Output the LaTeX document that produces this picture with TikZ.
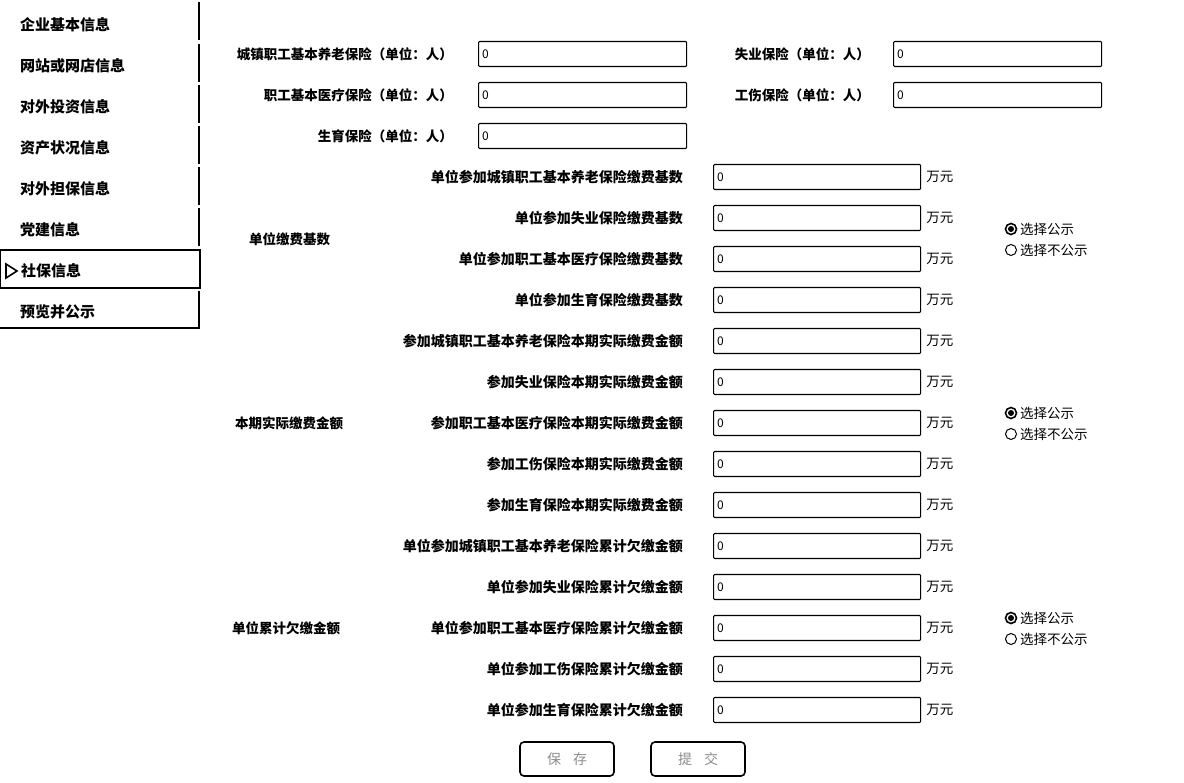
\documentclass[tikz,border=0pt]{standalone}
\usepackage{fontspec}
\newfontfamily\cjk{Noto Sans CJK SC}
\begin{document}
\begin{tikzpicture}[x=1pt,y=-1pt,
  lab/.style={font=\cjk\bfseries\fontsize{13.5pt}{15pt}\selectfont, inner sep=0pt},
  mlab/.style={font=\cjk\bfseries\fontsize{14pt}{15pt}\selectfont, inner sep=0pt, anchor=east},
  glab/.style={font=\cjk\bfseries\fontsize{13.5pt}{15pt}\selectfont, inner sep=0pt, anchor=west},
  menu/.style={font=\cjk\bfseries\fontsize{15pt}{16pt}\selectfont, inner sep=0pt, anchor=west},
  inbox/.style={draw, line width=1.1pt, rounded corners=1pt, minimum height=25pt, minimum width=#1, inner sep=0pt, anchor=west},
  inbox/.default=207pt,
  val/.style={font=\cjk\fontsize{12pt}{13pt}\selectfont, inner sep=0pt, anchor=west},
  unit/.style={font=\cjk\fontsize{13.5pt}{15pt}\selectfont, inner sep=0pt, anchor=west},
  rlab/.style={font=\cjk\fontsize{13.5pt}{15pt}\selectfont, inner sep=0pt, anchor=west},
  btn/.style={draw, line width=1.6pt, rounded corners=4pt, minimum width=94pt, minimum height=34pt, inner sep=0pt, font=\cjk\fontsize{14pt}{15pt}\selectfont, text=black!45},
  side/.style={line width=2.2pt}
]
\useasboundingbox (0,0) rectangle (1184,783);
\fill[white] (0,0) rectangle (1184,783);

% ---- sidebar ----
\foreach \t/\b in {2/40,44/82,85/123,126/164,167/205,208/246} {
  \draw[side] (199,\t) -- (199,\b);
}
\node[menu] (m1) at (20,25) {企业基本信息};
\node[menu] (m2) at (20,66) {网站或网店信息};
\node[menu] (m3) at (20,107) {对外投资信息};
\node[menu] (m4) at (20,148) {资产状况信息};
\node[menu] (m5) at (20,189) {对外担保信息};
\node[menu] (m6) at (20,230) {党建信息};
\draw[line width=2.6pt] (0,250) rectangle (200,288);
\draw[line width=1.6pt, fill=white] (6,264) -- (17,271) -- (6,278) -- cycle;
\node[menu] (m7) at (21,271) {社保信息};
\draw[side] (199,291) -- (199,328) -- (0,328);
\node[menu] (m8) at (20,312) {预览并公示};

% ---- top form ----
\node[lab, anchor=east] (t1) at (453,54) {城镇职工基本养老保险（单位：人）};
\node[inbox=208pt] (tb1) at (478,54) {};
\node[val] at ([xshift=4pt]tb1.west) {0};
\node[lab, anchor=east] (t2) at (453,95) {职工基本医疗保险（单位：人）};
\node[inbox=208pt] (tb2) at (478,95) {};
\node[val] at ([xshift=4pt]tb2.west) {0};
\node[lab, anchor=east] (t3) at (453,136) {生育保险（单位：人）};
\node[inbox=208pt] (tb3) at (478,136) {};
\node[val] at ([xshift=4pt]tb3.west) {0};
\node[lab, anchor=east] (t4) at (870,54) {失业保险（单位：人）};
\node[inbox=208pt] (tb4) at (893,54) {};
\node[val] at ([xshift=4pt]tb4.west) {0};
\node[lab, anchor=east] (t5) at (870,95) {工伤保险（单位：人）};
\node[inbox=208pt] (tb5) at (893,95) {};
\node[val] at ([xshift=4pt]tb5.west) {0};

% ---- detail rows ----
\foreach \y/\lab/\n in {
  177/单位参加城镇职工基本养老保险缴费基数/1,
  218/单位参加失业保险缴费基数/2,
  259/单位参加职工基本医疗保险缴费基数/3,
  300/单位参加生育保险缴费基数/4,
  341/参加城镇职工基本养老保险本期实际缴费金额/5,
  382/参加失业保险本期实际缴费金额/6,
  423/参加职工基本医疗保险本期实际缴费金额/7,
  464/参加工伤保险本期实际缴费金额/8,
  505/参加生育保险本期实际缴费金额/9,
  546/单位参加城镇职工基本养老保险累计欠缴金额/10,
  587/单位参加失业保险累计欠缴金额/11,
  628/单位参加职工基本医疗保险累计欠缴金额/12,
  669/单位参加工伤保险累计欠缴金额/13,
  710/单位参加生育保险累计欠缴金额/14} {
  \node[mlab] (l\n) at (683,\y) {\lab};
  \node[inbox] (b\n) at (713,\y) {};
  \node[val] (v\n) at ([xshift=4pt]b\n.west) {0};
  \node[unit] (u\n) at ([xshift=5pt]b\n.east) {万元};
}

% ---- group labels ----
\node[glab] (g1) at (249,239) {单位缴费基数};
\node[glab] (g2) at (235,423) {本期实际缴费金额};
\node[glab] (g3) at (232,628) {单位累计欠缴金额};

% ---- radio buttons ----
\foreach \y/\n in {229/1,413/2,618/3} {
  \draw[line width=1.6pt] (1011,\y) circle (5.5pt);
  \fill (1011,\y) circle (3pt);
  \node[rlab] (ra\n) at (1020,\y) {选择公示};
  \draw[line width=1pt] (1011,\y+21) circle (5.5pt);
  \node[rlab] (rb\n) at (1020,\y+21) {选择不公示};
}

% ---- buttons ----
\node[btn] (save) at (567,759) {保\hspace{12pt}存};
\node[btn] (submit) at (698,759) {提\hspace{12pt}交};
\end{tikzpicture}
\end{document}
